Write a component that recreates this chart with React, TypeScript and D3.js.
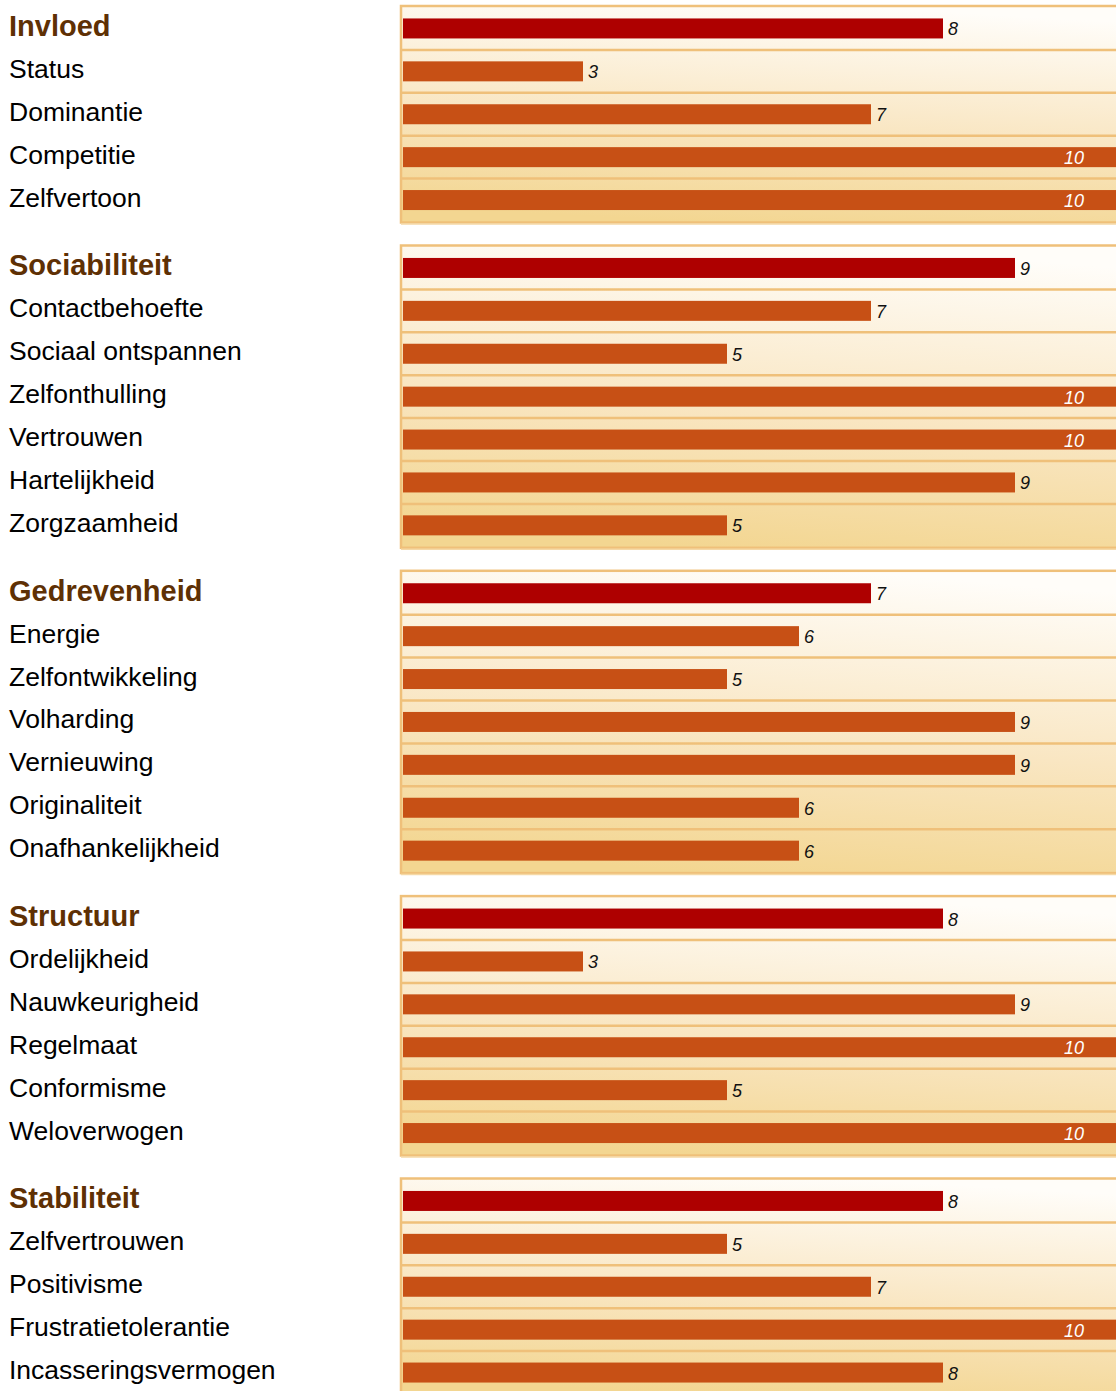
// App.tsx
import React, { useEffect, useRef } from 'react';
import * as d3 from 'd3';

const sectionTitles = ['Invloed', 'Sociabiliteit', 'Gedrevenheid', 'Structuur', 'Stabiliteit'];
const sectionScores = [8, 9, 7, 8, 8];

const invloedLabels = ['Status', 'Dominantie', 'Competitie', 'Zelfvertoon'];
const invloedValues = [3, 7, 10, 10];

const sociabiliteitLabels = ['Contactbehoefte', 'Sociaal ontspannen', 'Zelfonthulling', 'Vertrouwen', 'Hartelijkheid', 'Zorgzaamheid'];
const sociabiliteitValues = [7, 5, 10, 10, 9, 5];

const gedrevenheidLabels = ['Energie', 'Zelfontwikkeling', 'Volharding', 'Vernieuwing', 'Originaliteit', 'Onafhankelijkheid'];
const gedrevenheidValues = [6, 5, 9, 9, 6, 6];

const structuurLabels = ['Ordelijkheid', 'Nauwkeurigheid', 'Regelmaat', 'Conformisme', 'Weloverwogen'];
const structuurValues = [3, 9, 10, 5, 10];

const stabiliteitLabels = ['Zelfvertrouwen', 'Positivisme', 'Frustratietolerantie', 'Incasseringsvermogen'];
const stabiliteitValues = [5, 7, 10, 8];

const subLabels = [invloedLabels, sociabiliteitLabels, gedrevenheidLabels, structuurLabels, stabiliteitLabels];
const subValues = [invloedValues, sociabiliteitValues, gedrevenheidValues, structuurValues, stabiliteitValues];

const WIDTH = 1116;
const HEIGHT = 1391;
const ROW = 42.9;
const GAP = 25;
const MAX = 10;

const Chart = () => {
  const ref = useRef<SVGSVGElement>(null);

  useEffect(() => {
    const svg = d3.select(ref.current)
      .attr('width', WIDTH)
      .attr('height', HEIGHT)
      .style('position', 'absolute')
      .style('left', 0)
      .style('top', 0)
      .style('background', '#ffffff');

    svg.selectAll('*').remove();

    const defs = svg.append('defs');
    const grad = defs.append('linearGradient')
      .attr('id', 'panelGrad')
      .attr('x1', 0.6).attr('y1', 0)
      .attr('x2', 0.4).attr('y2', 1);
    grad.append('stop').attr('offset', '0%').attr('stop-color', '#fffdf9');
    grad.append('stop').attr('offset', '55%').attr('stop-color', '#f9e6c2');
    grad.append('stop').attr('offset', '100%').attr('stop-color', '#f3d691');

    const x = d3.scaleLinear().domain([0.5, MAX + 0.5]).range([403, 1123]);

    let top = 5;
    sectionTitles.forEach((title, s) => {
      const rows = [{ label: title, value: sectionScores[s], head: true }]
        .concat(subLabels[s].map((l, i) => ({ label: l, value: subValues[s][i], head: false })));

      const y = d3.scaleBand<number>()
        .domain(rows.map((_, i) => i))
        .range([top + 2, top + 2 + rows.length * ROW]);

      const g = svg.append('g');
      const panelH = rows.length * ROW + 4;

      // panel background + border
      g.append('rect')
        .attr('x', 401)
        .attr('y', top + 1)
        .attr('width', 740)
        .attr('height', panelH - 2)
        .attr('fill', 'url(#panelGrad)')
        .attr('stroke', '#efc07a')
        .attr('stroke-width', 2.5);
      g.append('line')
        .attr('x1', 401).attr('x2', WIDTH)
        .attr('y1', top + panelH + 0.5).attr('y2', top + panelH + 0.5)
        .attr('stroke', '#f5d9a6').attr('stroke-width', 1.5);

      // row separators
      g.selectAll('.sep')
        .data(rows.slice(1))
        .enter()
        .append('line')
        .attr('x1', 402).attr('x2', WIDTH)
        .attr('y1', (_, i) => (y(i + 1) as number))
        .attr('y2', (_, i) => (y(i + 1) as number))
        .attr('stroke', '#efc07a')
        .attr('stroke-width', 2.5);

      // bars
      g.selectAll('.bar')
        .data(rows)
        .enter()
        .append('rect')
        .attr('x', x(0.5))
        .attr('y', (_, i) => (y(i) as number) + y.bandwidth() / 2 - 10)
        .attr('width', d => (d.value >= MAX ? x(MAX + 0.5) : x(d.value)) - x(0.5))
        .attr('height', 20)
        .attr('fill', d => (d.head ? '#ae0000' : '#c75015'));

      // value labels
      g.selectAll('.val')
        .data(rows)
        .enter()
        .append('text')
        .attr('x', d => (d.value >= MAX ? x(MAX) - 3 : x(d.value) + 5))
        .attr('y', (_, i) => (y(i) as number) + y.bandwidth() / 2 + 7)
        .attr('text-anchor', d => (d.value >= MAX ? 'end' : 'start'))
        .attr('fill', d => (d.value >= MAX ? '#ffffff' : '#111111'))
        .style('font-family', '"Liberation Sans", Arial, sans-serif')
        .style('font-style', 'italic')
        .style('font-size', '18px')
        .text(d => d.value);

      // category labels
      g.selectAll('.lab')
        .data(rows)
        .enter()
        .append('text')
        .attr('x', 9)
        .attr('y', (_, i) => (y(i) as number) + y.bandwidth() / 2 + (i === 0 ? 7.5 : 6.5))
        .attr('fill', d => (d.head ? '#5e3004' : '#000000'))
        .style('font-family', '"Liberation Sans", Arial, sans-serif')
        .style('font-weight', d => (d.head ? 'bold' : 'normal'))
        .style('font-size', d => (d.head ? '29px' : '26.5px'))
        .text(d => d.label);

      top += rows.length * ROW + GAP;
    });
  }, []);

  return <svg ref={ref}></svg>;
};

export default function App() {
  return <Chart />;
}
